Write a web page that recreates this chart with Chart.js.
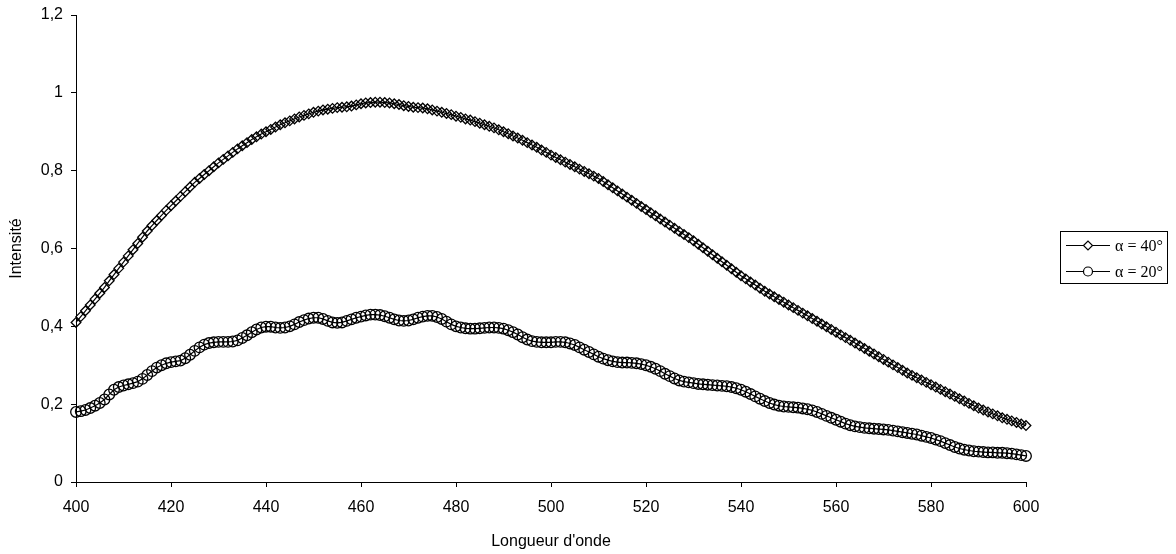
<!DOCTYPE html>
<html>
<head>
<meta charset="utf-8">
<script src="https://cdn.jsdelivr.net/npm/chart.js@4.4.1/dist/chart.umd.min.js"></script>
<style>
  body { margin: 0; background: #fff; }
  canvas { display: block; }
</style>
</head>
<body>
<canvas id="grafico" width="1176" height="554"></canvas>
<script>
// longueurs d'onde (nm), pas de 1 nm
const longueurs = [];
for (let l = 400; l <= 600; l++) longueurs.push(l);

// alpha = 40°
const intensite40 = [
  0.410,0.425,0.440,0.455,0.470,0.485,0.500,0.517,0.533,0.549,
  0.565,0.581,0.597,0.613,0.629,0.645,0.659,0.672,0.685,0.698,
  0.710,0.722,0.734,0.746,0.758,0.770,0.780,0.790,0.800,0.810,
  0.820,0.829,0.838,0.847,0.856,0.864,0.872,0.880,0.887,0.894,
  0.900,0.906,0.912,0.918,0.923,0.928,0.933,0.938,0.942,0.946,
  0.950,0.953,0.956,0.958,0.960,0.962,0.963,0.964,0.966,0.969,
  0.972,0.974,0.975,0.976,0.976,0.975,0.974,0.972,0.970,0.967,
  0.965,0.963,0.962,0.961,0.959,0.956,0.953,0.950,0.947,0.944,
  0.940,0.937,0.933,0.930,0.926,0.922,0.918,0.914,0.910,0.905,
  0.900,0.895,0.889,0.884,0.878,0.872,0.866,0.860,0.853,0.847,
  0.840,0.834,0.828,0.822,0.816,0.810,0.804,0.798,0.792,0.786,
  0.780,0.772,0.764,0.756,0.748,0.740,0.732,0.724,0.716,0.708,
  0.700,0.692,0.684,0.676,0.668,0.660,0.652,0.644,0.636,0.628,
  0.620,0.611,0.602,0.593,0.584,0.575,0.566,0.557,0.548,0.539,
  0.530,0.522,0.514,0.506,0.498,0.490,0.483,0.476,0.469,0.462,
  0.455,0.448,0.441,0.434,0.427,0.420,0.413,0.406,0.399,0.392,
  0.385,0.378,0.371,0.364,0.357,0.350,0.343,0.336,0.329,0.322,
  0.315,0.308,0.301,0.294,0.287,0.280,0.274,0.268,0.262,0.256,
  0.250,0.244,0.238,0.232,0.226,0.220,0.214,0.208,0.202,0.196,
  0.190,0.185,0.180,0.175,0.170,0.165,0.161,0.157,0.153,0.149,
  0.145
];

// alpha = 20°
const intensite20 = [
  0.180,0.182,0.185,0.190,0.196,0.203,0.212,0.225,0.237,0.244,
  0.248,0.251,0.254,0.258,0.265,0.275,0.285,0.294,0.300,0.305,
  0.308,0.310,0.312,0.318,0.327,0.337,0.346,0.353,0.357,0.359,
  0.360,0.360,0.360,0.361,0.364,0.370,0.377,0.385,0.392,0.397,
  0.399,0.399,0.397,0.396,0.397,0.400,0.405,0.411,0.416,0.420,
  0.422,0.422,0.419,0.414,0.410,0.409,0.410,0.414,0.418,0.422,
  0.425,0.428,0.430,0.430,0.429,0.426,0.422,0.418,0.415,0.414,
  0.415,0.418,0.422,0.425,0.427,0.427,0.424,0.419,0.412,0.405,
  0.400,0.397,0.395,0.394,0.394,0.395,0.396,0.397,0.397,0.396,
  0.394,0.390,0.385,0.379,0.372,0.366,0.362,0.360,0.359,0.359,
  0.359,0.360,0.360,0.359,0.356,0.352,0.346,0.340,0.334,0.328,
  0.322,0.317,0.313,0.310,0.308,0.307,0.307,0.306,0.305,0.303,
  0.300,0.296,0.291,0.285,0.278,0.272,0.266,0.261,0.258,0.256,
  0.254,0.252,0.251,0.250,0.249,0.248,0.247,0.246,0.244,0.241,
  0.237,0.232,0.226,0.220,0.214,0.208,0.203,0.199,0.196,0.194,
  0.193,0.192,0.191,0.189,0.187,0.184,0.180,0.175,0.170,0.165,
  0.160,0.155,0.150,0.146,0.143,0.141,0.139,0.138,0.137,0.136,
  0.135,0.134,0.132,0.130,0.128,0.126,0.124,0.122,0.119,0.116,
  0.113,0.109,0.105,0.100,0.095,0.090,0.086,0.083,0.081,0.079,
  0.078,0.077,0.076,0.076,0.075,0.075,0.074,0.073,0.071,0.069,
  0.067
];

const etiquettes = ['\u03b1 = 40\u00b0', '\u03b1 = 20\u00b0'];
const styles = ['rectRot', 'circle'];

const police = { family: "'Liberation Sans', Arial, sans-serif", size: 16 };

// legende dessinee a la main (trait + marqueur dans un cadre)
const legendePlugin = {
  id: 'legende',
  afterDraw(chart) {
    const ctx = chart.ctx;
    ctx.save();
    ctx.strokeStyle = '#000';
    ctx.lineWidth = 1;
    ctx.strokeRect(1060.5, 231.5, 107, 52);
    ctx.font = "16px 'Liberation Serif', 'Times New Roman', serif";
    ctx.textBaseline = 'middle';
    etiquettes.forEach((txt, i) => {
      const y = 245.5 + i * 26;
      ctx.beginPath();
      ctx.moveTo(1066, y);
      ctx.lineTo(1110, y);
      ctx.stroke();
      ctx.fillStyle = '#fff';
      ctx.lineWidth = 1.2;
      Chart.helpers.drawPoint(ctx, { pointStyle: styles[i], radius: 4.5, rotation: 0, borderWidth: 1.2 }, 1088, y);
      ctx.lineWidth = 1;
      ctx.fillStyle = '#000';
      ctx.fillText(txt, 1115, y + 1);
    });
    ctx.restore();
  }
};

const series = [intensite40, intensite20].map((valeurs, i) => ({
  label: etiquettes[i],
  data: longueurs.map((l, j) => ({ x: l, y: valeurs[j] })),
  borderColor: '#000',
  borderWidth: 1.2,
  pointStyle: styles[i],
  pointRadius: i === 0 ? 4.8 : 5.3,
  pointBorderColor: '#000',
  pointBorderWidth: 1.3,
  pointBackgroundColor: 'rgba(0,0,0,0)',
  tension: 0,
  clip: false
}));

new Chart(document.getElementById('grafico').getContext('2d'), {
  type: 'line',
  data: { datasets: series },
  options: {
    responsive: false,
    animation: false,
    layout: { padding: { left: 0, top: 15, right: 150, bottom: 0 } },
    plugins: { legend: { display: false }, tooltip: { enabled: false } },
    scales: {
      x: {
        type: 'linear',
        min: 400, max: 600,
        afterFit: s => { s.height = 72; },
        border: { color: '#000', width: 1 },
        grid: { drawOnChartArea: false, drawTicks: true, tickLength: 5, color: '#000' },
        ticks: { stepSize: 20, color: '#000', font: police, padding: 11, maxRotation: 0 },
        title: { display: true, text: "Longueur d'onde", color: '#000', font: police, padding: { top: 0, bottom: 3 } }
      },
      y: {
        min: 0, max: 1.2,
        afterFit: s => { s.width = 76; s.paddingTop = 0; s.paddingBottom = 0; },
        border: { color: '#000', width: 1 },
        grid: { drawOnChartArea: false, drawTicks: true, tickLength: 5, color: '#000' },
        ticks: {
          stepSize: 0.2, color: '#000', font: police, padding: 8,
          callback: v => String(Math.round(v * 10) / 10).replace('.', ',')
        },
        title: { display: true, text: 'Intensit\u00e9', color: '#000', font: police, padding: { top: 7, bottom: 0 } }
      }
    }
  },
  plugins: [legendePlugin]
});
</script>
</body>
</html>
